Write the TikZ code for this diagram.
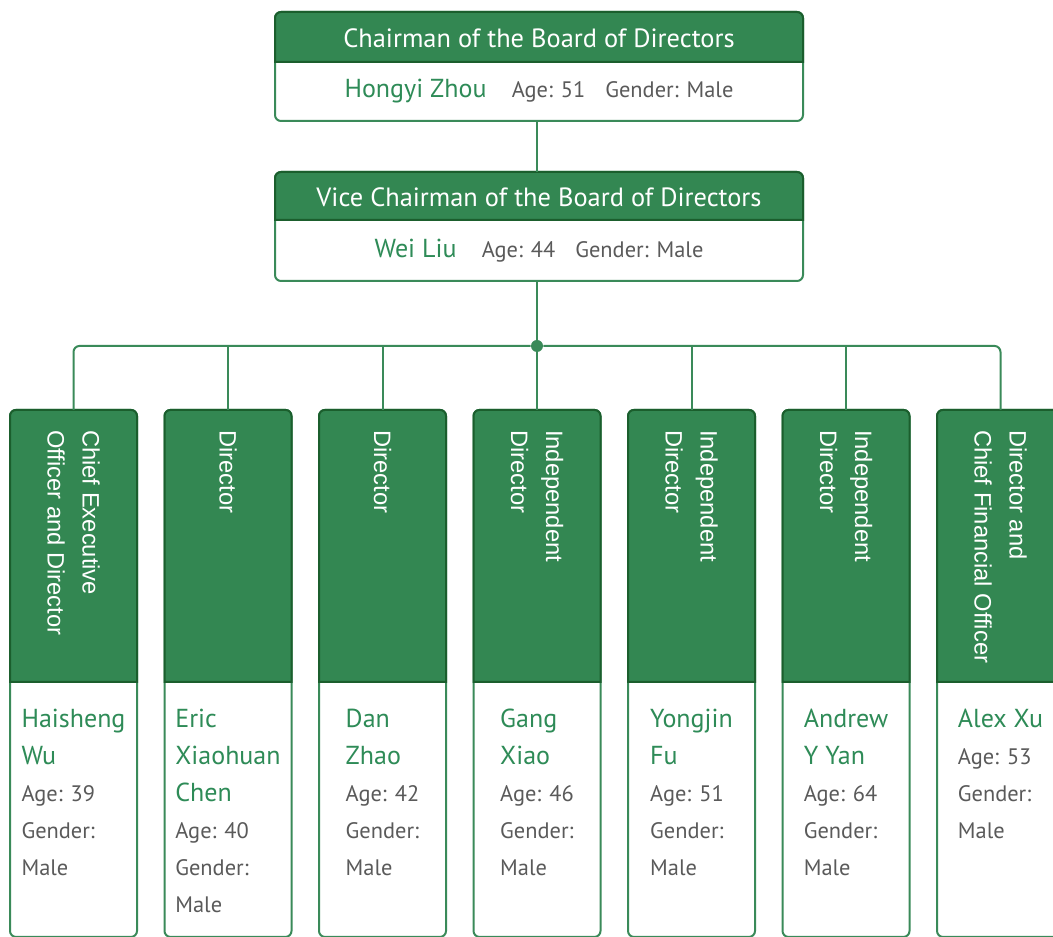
\documentclass[tikz,border=0pt]{standalone}
\usepackage{fontspec}
\setmainfont{PT Sans}
\newfontfamily\rolefont{Liberation Sans}
\usepackage{tikz}
\usetikzlibrary{positioning}
\definecolor{hdrgreen}{RGB}{51,135,82}
\definecolor{hdredge}{RGB}{27,94,45}
\definecolor{wiregreen}{RGB}{58,138,89}
\definecolor{namegreen}{RGB}{46,139,87}
\definecolor{infogray}{RGB}{90,90,90}
\tikzstyle{topbox} = [rectangle, rounded corners=4.5pt, minimum width=396pt, minimum height=81.75pt, outer sep=0pt, draw=wiregreen, line width=1.5pt, fill=white]
\tikzstyle{colbox} = [rectangle, rounded corners=4.5pt, minimum width=95.25pt, minimum height=395.25pt, outer sep=0pt, draw=wiregreen, line width=1.5pt, fill=white]
\tikzstyle{band} = [fill=hdrgreen, draw=hdredge, line width=1.5pt]
\tikzstyle{title} = [text=white, inner sep=0pt, anchor=base, font=\fontsize{19.8}{24}\selectfont]
\tikzstyle{person} = [inner sep=0pt, anchor=base, text=infogray, font=\fontsize{16.8}{20}\selectfont]
\tikzstyle{role} = [text=white, inner sep=0pt, rotate=-90, anchor=west, align=left, font=\rolefont\fontsize{17.8}{26.25}\selectfont]
\tikzstyle{info} = [inner sep=0pt, anchor=north, align=left, text=infogray, font=\fontsize{16.8}{27.75}\selectfont]
\tikzstyle{wire} = [draw=wiregreen, line width=1.5pt]
\tikzstyle{hubdot} = [circle, fill=wiregreen, minimum size=9pt, inner sep=0pt]
\newcommand{\nm}[1]{{\color{namegreen}\fontsize{19.5}{27.75}\selectfont #1}}
\newcommand{\headband}[2]{%
  \draw[band] ([yshift=-#2]#1.north west) -- ([yshift=-4.5pt]#1.north west)
    arc[start angle=180, end angle=90, radius=4.5pt] -- ([xshift=-4.5pt]#1.north east)
    arc[start angle=90, end angle=0, radius=4.5pt] -- ([yshift=-#2]#1.north east) -- cycle;}

\begin{document}
\begin{tikzpicture}[x=0.75pt, y=-0.75pt, on grid]
		\useasboundingbox (0,0) rectangle (1053,937);
		\clip (0,0) rectangle (1053,937);
		
		% Boxes
		\node (chair) [topbox] at (539,66.5) {};
		\node (vice) [topbox, below=120pt of chair] {};
		\node (hub) [hubdot, below=89.6pt of vice, xshift=-1.5pt] {};
		\node (c4) [colbox, below=245.6pt of hub] {};
		\node (c3) [colbox, left=115.875pt of c4] {};
		\node (c2) [colbox, left=115.875pt of c3] {};
		\node (c1) [colbox, left=115.875pt of c2] {};
		\node (c5) [colbox, right=115.875pt of c4] {};
		\node (c6) [colbox, right=115.875pt of c5] {};
		\node (c7) [colbox, right=115.875pt of c6] {};
		
		% Header bands
		\headband{chair}{37.5pt}
		\headband{vice}{36pt}
		\headband{c1}{204pt}
		\headband{c2}{204pt}
		\headband{c3}{204pt}
		\headband{c4}{204pt}
		\headband{c5}{204pt}
		\headband{c6}{204pt}
		\headband{c7}{204pt}
		
		% Texts
		\node (chairT) [title] at ([yshift=-27pt]chair.north) {Chairman of the Board of Directors};
		\node (chairP) [person] at ([yshift=-64.5pt]chair.north) {\nm{Hongyi Zhou}\hspace{19pt}Age: 51\hspace{15pt}Gender: Male};
		\node (viceT) [title] at ([yshift=-26.25pt]vice.north) {Vice Chairman of the Board of Directors};
		\node (viceP) [person] at ([yshift=-64.5pt]vice.north) {\nm{Wei Liu}\hspace{19pt}Age: 44\hspace{15pt}Gender: Male};
		
		\node (r1) [role] at ([yshift=-15pt]c1.north) {Chief Executive\\Officer and Director};
		\node (r2) [role] at ([yshift=-15pt]c2.north) {Director};
		\node (r3) [role] at ([yshift=-15pt]c3.north) {Director};
		\node (r4) [role] at ([yshift=-15pt]c4.north) {Independent\\Director};
		\node (r5) [role] at ([yshift=-15pt]c5.north) {Independent\\Director};
		\node (r6) [role] at ([yshift=-15pt]c6.north) {Independent\\Director};
		\node (r7) [role] at ([yshift=-15pt]c7.north) {Director and\\Chief Financial Officer};
		
		\node (i1) [info] at ([yshift=-224.25pt]c1.north) {\nm{Haisheng}\\\nm{Wu}\\Age: 39\\Gender:\\Male};
		\node (i2) [info] at ([yshift=-224.25pt]c2.north) {\nm{Eric}\\\nm{Xiaohuan}\\\nm{Chen}\\Age: 40\\Gender:\\Male};
		\node (i3) [info] at ([yshift=-224.25pt]c3.north) {\nm{Dan}\\\nm{Zhao}\\Age: 42\\Gender:\\Male};
		\node (i4) [info] at ([yshift=-224.25pt]c4.north) {\nm{Gang}\\\nm{Xiao}\\Age: 46\\Gender:\\Male};
		\node (i5) [info] at ([yshift=-224.25pt]c5.north) {\nm{Yongjin}\\\nm{Fu}\\Age: 51\\Gender:\\Male};
		\node (i6) [info] at ([yshift=-224.25pt]c6.north) {\nm{Andrew}\\\nm{Y Yan}\\Age: 64\\Gender:\\Male};
		\node (i7) [info] at ([yshift=-224.25pt]c7.north) {\nm{Alex Xu}\\Age: 53\\Gender:\\Male};
		
		% Wires
		\draw [wire] (chair.south -| hub.center) -- (vice.north -| hub.center);
		\draw [wire] (vice.south -| hub.center) -- (hub);
		\draw [wire, rounded corners=4.5pt] (c1.north) |- (hub) -| (c7.north);
		\draw [wire] (c2.north) -- (c2.north |- hub.center);
		\draw [wire] (c3.north) -- (c3.north |- hub.center);
		\draw [wire] (hub) -- (c4);
		\draw [wire] (c5.north) -- (c5.north |- hub.center);
		\draw [wire] (c6.north) -- (c6.north |- hub.center);
		
	\end{tikzpicture}
\end{document}
